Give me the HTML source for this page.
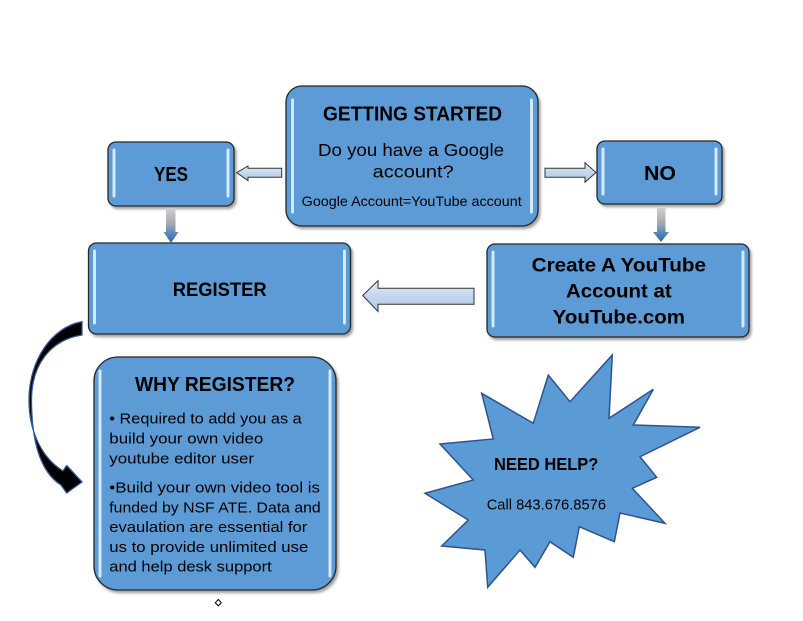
<!DOCTYPE html>
<html>
<head>
<meta charset="utf-8">
<style>
html,body{margin:0;padding:0;background:#fff;}
svg{display:block;}
text{font-family:"Liberation Sans", Arial, sans-serif;fill:#000;}
.b{font-weight:bold;}
</style>
</head>
<body>
<svg width="803" height="621" viewBox="0 0 803 621" xmlns="http://www.w3.org/2000/svg">
  <defs>
    <filter id="sh" x="-10%" y="-10%" width="130%" height="130%">
      <feDropShadow dx="2" dy="2.5" stdDeviation="1.2" flood-color="#555" flood-opacity="0.55"/>
    </filter>
    <linearGradient id="ag" x1="0" y1="0" x2="0" y2="1">
      <stop offset="0" stop-color="#e4edf8"/>
      <stop offset="0.5" stop-color="#c3d6ee"/>
      <stop offset="1" stop-color="#aec8e8"/>
    </linearGradient>
    <linearGradient id="dg" x1="0" y1="0" x2="0" y2="1">
      <stop offset="0" stop-color="#d0d0d0"/>
      <stop offset="0.45" stop-color="#a4a9b0"/>
      <stop offset="0.8" stop-color="#4a7fb8"/>
      <stop offset="1" stop-color="#2e6bb0"/>
    </linearGradient>
  </defs>

  <!-- Boxes -->
  <g fill="#5b9bd5" stroke="#262626" stroke-width="1.3" filter="url(#sh)">
    <rect x="286" y="86" width="252" height="140" rx="16"/>
    <rect x="108" y="142" width="126" height="64" rx="8"/>
    <rect x="597" y="141" width="125" height="63" rx="8"/>
    <rect x="88.5" y="243" width="262" height="91" rx="8"/>
    <rect x="487" y="244" width="262" height="93" rx="8"/>
    <rect x="94" y="357" width="242" height="233" rx="24"/>
  </g>

  <!-- bevel highlight stripes -->
  <g stroke="#d3eafd" stroke-width="3" stroke-linecap="round">
    <line x1="292.5" y1="100" x2="292.5" y2="212"/>
    <line x1="531.5" y1="100" x2="531.5" y2="212"/>
    <line x1="114" y1="150" x2="114" y2="196"/>
    <line x1="228" y1="150" x2="228" y2="196"/>
    <line x1="603" y1="149" x2="603" y2="194"/>
    <line x1="716" y1="149" x2="716" y2="194"/>
    <line x1="94.5" y1="251" x2="94.5" y2="323"/>
    <line x1="344.5" y1="251" x2="344.5" y2="323"/>
    <line x1="493" y1="252" x2="493" y2="326"/>
    <line x1="743" y1="252" x2="743" y2="326"/>
    <line x1="100" y1="371" x2="100" y2="576"/>
    <line x1="330" y1="371" x2="330" y2="576"/>
  </g>

  <!-- horizontal arrows -->
  <g fill="url(#ag)" stroke="#333" stroke-width="1" stroke-linejoin="miter">
    <polygon points="236.7,172.7 248,166 248,168.3 281.7,168.3 281.7,177.3 248,177.3 248,180.7"/>
    <polygon points="545,168.3 585,168.3 585,162.7 596,172.5 585,182.3 585,177.3 545,177.3"/>
    <polygon points="362.7,295.5 378,280.7 378,288.3 474,288.3 474,304.3 378,304.3 378,311.5"/>
  </g>

  <!-- down arrows -->
  <g fill="url(#dg)">
    <polygon points="166,208 175.5,208 175.5,232 178.5,232 171,243 163.5,232 166,232"/>
    <polygon points="657,208 665.5,208 665.5,232 669,232 661,242 653,232 657,232"/>
  </g>

  <!-- curved arrow -->
  <path d="M 82 321.7 C 52 327, 29 360, 29 400 C 29 432, 42 458, 63 471 L 66.7 465.5 L 82 482 L 66.7 493 L 61 485 C 40 472, 31.5 440, 31.5 400 C 31.5 365, 50 340, 82 335 Z"
        fill="#000" stroke="#2f5597" stroke-width="1.3" stroke-linejoin="round"/>

  <!-- starburst -->
  <polygon fill="#5b9bd5" stroke="#2e528f" stroke-width="1.5" stroke-linejoin="miter"
    points="612.3,355 609,418.3 653.3,389.3 633.3,425 700,427.3 640,456.7 656.7,477.3 632.3,488.3 665,523.3 620,513 614.3,541.7 579.3,526.7 573.3,557.3 550,541.7 535,567.3 520,550 487.7,587.3 485,550 441.7,546 468.3,520 425,493.3 473.3,480 440,444 493.3,439 481.7,393.3 533.3,423.3 548.3,375 570,401.7"/>

  <!-- diamond -->
  <polygon points="218.3,599.5 221.3,602.7 218.3,605.9 215.3,602.7" fill="#fff" stroke="#000" stroke-width="1"/>

  <!-- Text -->
  <text class="b" x="323" y="120.7" font-size="20" textLength="179" lengthAdjust="spacingAndGlyphs">GETTING STARTED</text>
  <text x="318" y="156" font-size="17.5" textLength="186" lengthAdjust="spacingAndGlyphs">Do you have a Google</text>
  <text x="372.7" y="177.5" font-size="17.5" textLength="81" lengthAdjust="spacingAndGlyphs">account?</text>
  <text x="301.7" y="206" font-size="14" textLength="220" lengthAdjust="spacingAndGlyphs">Google Account=YouTube account</text>

  <text class="b" x="154" y="181" font-size="20" textLength="34" lengthAdjust="spacingAndGlyphs">YES</text>
  <text class="b" x="644" y="180" font-size="20" textLength="32" lengthAdjust="spacingAndGlyphs">NO</text>
  <text class="b" x="172.7" y="296" font-size="19" textLength="94" lengthAdjust="spacingAndGlyphs">REGISTER</text>

  <text class="b" x="531.7" y="271.7" font-size="19" textLength="174.3" lengthAdjust="spacingAndGlyphs">Create A YouTube</text>
  <text class="b" x="566" y="297.5" font-size="19" textLength="105.7" lengthAdjust="spacingAndGlyphs">Account at</text>
  <text class="b" x="552.7" y="323.5" font-size="19" textLength="132.3" lengthAdjust="spacingAndGlyphs">YouTube.com</text>

  <text class="b" x="135" y="391" font-size="20" textLength="160" lengthAdjust="spacingAndGlyphs">WHY REGISTER?</text>
  <g font-size="14.5">
    <text x="109.3" y="423.3" textLength="192.4" lengthAdjust="spacingAndGlyphs">• Required to add you as a</text>
    <text x="109.3" y="443.3" textLength="154" lengthAdjust="spacingAndGlyphs">build your own video</text>
    <text x="109.3" y="463.3" textLength="144.7" lengthAdjust="spacingAndGlyphs">youtube editor user</text>
    <text x="109.3" y="492.7" textLength="210.7" lengthAdjust="spacingAndGlyphs">•Build your own video tool is</text>
    <text x="109.3" y="512.3" textLength="211.4" lengthAdjust="spacingAndGlyphs">funded by NSF ATE. Data and</text>
    <text x="109.3" y="532" textLength="198" lengthAdjust="spacingAndGlyphs">evaulation are essential for</text>
    <text x="109.3" y="552" textLength="199" lengthAdjust="spacingAndGlyphs">us to provide unlimited use</text>
    <text x="109.3" y="571.7" textLength="162.4" lengthAdjust="spacingAndGlyphs">and help desk support</text>
  </g>

  <text class="b" x="494" y="470" font-size="17.5" textLength="104.3" lengthAdjust="spacingAndGlyphs">NEED HELP?</text>
  <text x="486.7" y="509.3" font-size="15" textLength="119.3" lengthAdjust="spacingAndGlyphs">Call 843.676.8576</text>
</svg>
</body>
</html>
